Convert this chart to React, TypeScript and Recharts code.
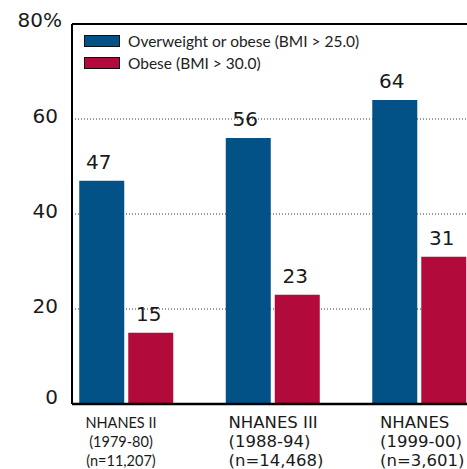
import React from 'react';
import {
  BarChart,
  Bar,
  XAxis,
  YAxis,
  CartesianGrid,
  Legend,
  LabelList,
  ReferenceLine,
} from 'recharts';

const categories = ['NHANES II', 'NHANES III', 'NHANES'];
const periods = ['(1979-80)', '(1988-94)', '(1999-00)'];
const sampleSizes = ['(n=11,207)', '(n=14,468)', '(n=3,601)'];
const overweight = [47, 56, 64];
const obese = [15, 23, 31];
const yTicks = [0, 20, 40, 60, 80];
const seriesNames = ['Overweight or obese (BMI > 25.0)', 'Obese (BMI > 30.0)'];

const BLUE = '#035287';
const RED = '#b20a3a';

const data = categories.map((c, i) => ({
  x: i,
  name: c,
  overweight: overweight[i],
  obese: obese[i],
}));

const xLabelStyles = [
  { dx: -5.5, anchor: 'middle', font: 'Lato', size: 14.5 },
  { dx: -44.5, anchor: 'start', font: 'DejaVu Sans', size: 16.5 },
  { dx: -39.5, anchor: 'start', font: 'DejaVu Sans', size: 16.5 },
];

const XTick = (props: any) => {
  const { x, y, payload } = props;
  const i = Math.round(payload.value);
  const s = xLabelStyles[i];
  if (!s) return null;
  const lines = [categories[i], periods[i], sampleSizes[i]];
  return (
    <g>
      {lines.map((t, k) => (
        <text
          key={k}
          x={x + s.dx}
          y={y + 24 + k * 19}
          textAnchor={s.anchor as any}
          fontFamily={s.font}
          fontSize={s.size}
          fill="#1a1a1a"
        >
          {t}
        </text>
      ))}
    </g>
  );
};

const YTick = (props: any) => {
  const { x, y, payload } = props;
  const v = payload.value;
  const isTop = v === 80;
  const dy = v === 0 ? 0 : isTop ? 3 : 4;
  return (
    <text
      x={isTop ? x + 4 : x}
      y={y + dy}
      textAnchor="end"
      fontFamily="DejaVu Sans"
      fontSize={20}
      fill="#1a1a1a"
    >
      {isTop ? `${v}%` : v}
    </text>
  );
};

const LegendContent = () => {
  const colors = [BLUE, RED];
  return (
    <div style={{ display: 'flex', flexDirection: 'column' }}>
      {seriesNames.map((n, i) => (
        <div
          key={n}
          style={{ display: 'flex', alignItems: 'center', height: 22 }}
        >
          <div
            style={{
              width: 36,
              height: 12,
              boxSizing: 'border-box',
              border: '1.5px solid #111',
              background: colors[i],
              marginRight: 8,
            }}
          />
          <span
            style={{
              fontFamily: 'Lato',
              fontSize: 15.5,
              color: '#222',
              whiteSpace: 'nowrap',
            }}
          >
            {n}
          </span>
        </div>
      ))}
    </div>
  );
};

export default function App() {
  return (
    <div style={{ position: 'absolute', left: 0, top: 0, width: 467, height: 469, overflow: 'hidden', background: '#fff' }}>
      <BarChart
        width={467}
        height={469}
        data={data}
        margin={{ top: 24, right: 0, bottom: 0, left: 12 }}
        barGap={4}
      >
        <CartesianGrid
          vertical={false}
          stroke="#333"
          strokeDasharray="1 2"
          strokeWidth={1}
        />
        <XAxis
          dataKey="x"
          type="number"
          domain={[-0.372, 2.324]}
          allowDataOverflow
          ticks={[0, 1, 2]}
          interval={0}
          height={65}
          tickLine={false}
          tickSize={0}
          tickMargin={0}
          axisLine={{ stroke: '#000', strokeWidth: 2.5 }}
          tick={<XTick />}
        />
        <YAxis
          type="number"
          domain={[0, 80]}
          ticks={yTicks}
          interval={0}
          width={60}
          tickLine={false}
          tickSize={0}
          tickMargin={14}
          axisLine={{ stroke: '#000', strokeWidth: 2 }}
          tick={<YTick />}
        />
        <ReferenceLine y={80} stroke="#000" strokeWidth={2} />
        <Legend
          layout="vertical"
          align="center"
          verticalAlign="middle"
          wrapperStyle={{ left: 84, top: 30, width: 320, height: 44 }}
          content={<LegendContent />}
        />
        <Bar
          dataKey="overweight"
          name={seriesNames[0]}
          fill={BLUE}
          barSize={45}
          isAnimationActive={false}
        >
          <LabelList
            dataKey="overweight"
            position="top"
            offset={12}
            dx={-3}
            fontFamily="DejaVu Sans"
            fontSize={20}
            fill="#1a1a1a"
          />
        </Bar>
        <Bar
          dataKey="obese"
          name={seriesNames[1]}
          fill={RED}
          barSize={45}
          isAnimationActive={false}
        >
          <LabelList
            dataKey="obese"
            position="top"
            offset={12}
            dx={-2}
            fontFamily="DejaVu Sans"
            fontSize={20}
            fill="#1a1a1a"
          />
        </Bar>
      </BarChart>
    </div>
  );
}
